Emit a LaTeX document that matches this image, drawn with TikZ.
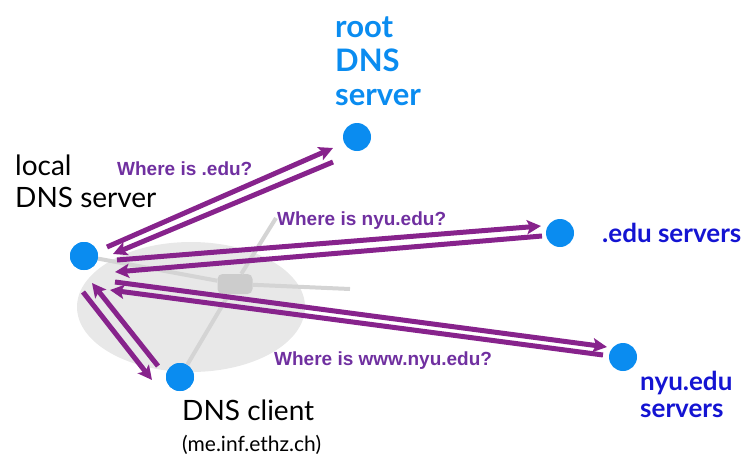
\documentclass[tikz,border=0pt]{standalone}
\usepackage{fontspec}
\setmainfont{Lato}
\newfontfamily\arialfont{Liberation Sans}
\usetikzlibrary{arrows.meta,calc}

\definecolor{dotblue}{RGB}{10,140,240}
\definecolor{srvblue}{RGB}{20,20,210}
\definecolor{msgpurple}{RGB}{135,35,140}
\definecolor{askpurple}{RGB}{112,48,160}

\tikzset{
  host/.style={circle,fill=dotblue,minimum size=28pt,inner sep=0pt},
  msg/.style={draw=msgpurple,line width=5pt,-{Stealth[length=14pt,width=14pt,inset=3pt]}},
  cable/.style={draw=black!17,line width=4pt},
  ask/.style={anchor=base west,inner sep=0pt,text=askpurple,font=\arialfont\bfseries\fontsize{19}{22}\selectfont},
  label/.style={anchor=base west,inner sep=0pt,align=left}
}

\begin{document}
\begin{tikzpicture}[x=1pt,y=-1pt]
\useasboundingbox (0,0) rectangle (755,466);

% the local network
\fill[black!9] (191,307) ellipse [x radius=114pt,y radius=65pt];
\node[host] (local)  at (84,256)  {};
\node[host] (client) at (180,377) {};
\node[fill=black!20,rounded corners=5pt,minimum width=35pt,minimum height=20pt,inner sep=0pt] (hub) at (235,284) {};
\coordinate (up)    at (276,218);
\coordinate (right) at (350,289);
\draw[cable] (hub) -- (local);
\draw[cable] (hub) -- (client);
\draw[cable] (hub) -- (up);
\draw[cable] (hub) -- (right);
\node[host] at (local) {};
\node[host] at (client) {};

% the servers
\node[host] (root) at (357,137) {};
\node[host] (edu)  at (560,233) {};
\node[host] (nyu)  at (623,357) {};

% queries and replies
\draw[msg] ($(local)+(23,-9)$)  -- ($(root)+(-24,11)$);
\draw[msg] ($(root)+(-24,25)$)  -- ($(local)+(29,-2)$);
\draw[msg] ($(local)+(33,4)$)   -- ($(edu)+(-19,-7)$);
\draw[msg] ($(edu)+(-18,3)$)    -- ($(local)+(31,16)$);
\draw[msg] ($(local)+(31,26)$)  -- ($(nyu)+(-16,-10)$);
\draw[msg] ($(nyu)+(-20,-2)$)   -- ($(local)+(26,34)$);
\draw[msg] ($(local)+(-1,36)$)  -- ($(client)+(-28,3)$);
\draw[msg] ($(client)+(-22,-11)$) -- ($(local)+(8,27)$);

% texts
\node[label,text=dotblue,font=\bfseries\fontsize{31}{34}\selectfont] (roottext) at (335,105) {root\\DNS\\server};
\node[label,font=\fontsize{28}{32}\selectfont] (localtext) at (15,207) {local\\DNS server};
\node[label,text=srvblue,font=\bfseries\fontsize{26}{27}\selectfont] (edutext) at (602,242) {.edu servers};
\node[label,text=srvblue,font=\bfseries\fontsize{26}{27}\selectfont] (nyutext) at (640,417) {nyu.edu\\servers};
\node[label,font=\fontsize{28}{30}\selectfont] (clienttext) at (182,420) {DNS client};
\node[label,font=\fontsize{21}{24}\selectfont] (clientname) at (182,451) {(me.inf.ethz.ch)};
\node[ask] (askroot) at (117,175) {Where is .edu?};
\node[ask] (askedu)  at (277,225) {Where is nyu.edu?};
\node[ask] (asknyu)  at (274,365) {Where is www.nyu.edu?};
\end{tikzpicture}
\end{document}
